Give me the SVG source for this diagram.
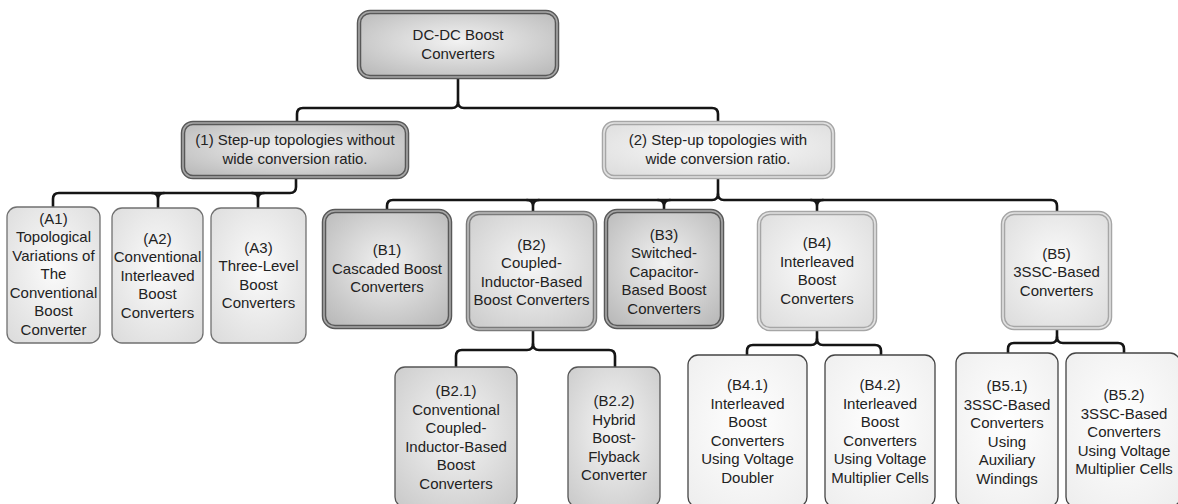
<svg xmlns="http://www.w3.org/2000/svg" width="1178" height="504" viewBox="0 0 1178 504">
<defs>
<radialGradient id="gDark" cx="50%" cy="45%" r="75%">
<stop offset="0" stop-color="#f2f2f2"/><stop offset="1" stop-color="#b4b4b4"/>
</radialGradient>
<radialGradient id="gMid" cx="50%" cy="45%" r="75%">
<stop offset="0" stop-color="#f6f6f6"/><stop offset="1" stop-color="#c8c8c8"/>
</radialGradient>
<radialGradient id="gLight" cx="50%" cy="45%" r="75%">
<stop offset="0" stop-color="#fbfbfb"/><stop offset="1" stop-color="#dadada"/>
</radialGradient>
<radialGradient id="gPale" cx="50%" cy="45%" r="80%">
<stop offset="0" stop-color="#ffffff"/><stop offset="1" stop-color="#ececec"/>
</radialGradient>
<style>
text{font-family:"Liberation Sans",Arial,sans-serif;font-size:15px;fill:#222;text-anchor:middle}
.dk{fill:url(#gDark);stroke:#585858;stroke-width:4.5}
.dk2{fill:none;stroke:#a8a8a8;stroke-width:1.6}
.md{fill:url(#gMid);stroke:#7a7a7a;stroke-width:4.5}
.md2{fill:none;stroke:#bcbcbc;stroke-width:1.6}
.lt{fill:url(#gLight);stroke:#a6a6a6;stroke-width:4.5}
.lt2{fill:none;stroke:#e2e2e2;stroke-width:1.6}
.sa{fill:url(#gLight);stroke:#707070;stroke-width:1.3}
.sb{fill:url(#gMid);stroke:#555;stroke-width:1.3}
.sc{fill:url(#gPale);stroke:#444;stroke-width:1.3}
.conn path{fill:none;stroke:#151515;stroke-width:2.6;stroke-linecap:round;stroke-linejoin:round}
</style>
</defs>

<g class="conn" id="connectors">
<path d="M458,77 V102 Q458,108 452,108 H303 Q297,108 297,114 V123"/>
<path d="M458,102 Q458,108 464,108 H712 Q718,108 718,114 V123"/>
<path d="M296,177 V187 Q296,193 290,193 H59 Q53,193 53,199 V207"/>
<path d="M152,193 Q158,193 158,199 V208 M164,193 Q158,193 158,199"/>
<path d="M252,193 Q258,193 258,199 V208 M264,193 Q258,193 258,199"/>
<path d="M718,177 V194 Q718,200 712,200 H393 Q387,200 387,206 V211"/>
<path d="M718,194 Q718,200 724,200 H1051 Q1057,200 1057,206 V213"/>
<path d="M527,200 Q533,200 533,206 V213 M539,200 Q533,200 533,206"/>
<path d="M658,200 Q664,200 664,206 V211 M670,200 Q664,200 664,206"/>
<path d="M811,200 Q817,200 817,206 V213 M823,200 Q817,200 817,206"/>
<path d="M533,329 V344 Q533,350 527,350 H462 Q456,350 456,356 V367"/>
<path d="M533,344 Q533,350 539,350 H609 Q615,350 615,356 V367"/>
<path d="M817,329 V339 Q817,345 811,345 H753 Q747,345 747,351 V355"/>
<path d="M817,339 Q817,345 823,345 H875 Q881,345 881,351 V355"/>
<path d="M1057,328 V337 Q1057,343 1051,343 H1014 Q1008,343 1008,349 V353"/>
<path d="M1057,337 Q1057,343 1063,343 H1118 Q1124,343 1124,349 V353"/>
</g>

<g id="root">
<rect class="dk" x="359" y="12" width="198" height="65" rx="11"/>
<rect class="dk2" x="359" y="12" width="198" height="65" rx="11"/>
<text x="458" y="40.3">DC-DC Boost</text>
<text x="458" y="58.8">Converters</text>
</g>

<g id="n1">
<rect class="dk" x="183" y="123" width="224" height="54" rx="10"/>
<rect class="dk2" x="183" y="123" width="224" height="54" rx="10"/>
<text x="295" y="145.3">(1) Step-up topologies without</text>
<text x="295" y="163.8">wide conversion ratio.</text>
</g>

<g id="n2">
<rect class="lt" x="604" y="123" width="229" height="54" rx="10"/>
<rect class="lt2" x="604" y="123" width="229" height="54" rx="10"/>
<text x="718" y="145.3">(2) Step-up topologies with</text>
<text x="718" y="163.8">wide conversion ratio.</text>
</g>

<g id="A1">
<rect class="sa" x="7" y="207" width="93" height="136" rx="10"/>
<text x="53.5" y="223.5">(A1)</text>
<text x="53.5" y="242">Topological</text>
<text x="53.5" y="260.5">Variations of</text>
<text x="53.5" y="279">The</text>
<text x="53.5" y="297.5">Conventional</text>
<text x="53.5" y="316">Boost</text>
<text x="53.5" y="334.5">Converter</text>
</g>

<g id="A2">
<rect class="sa" x="112" y="208" width="91" height="135" rx="10"/>
<text x="157.5" y="243.5">(A2)</text>
<text x="157.5" y="262">Conventional</text>
<text x="157.5" y="280.5">Interleaved</text>
<text x="157.5" y="299">Boost</text>
<text x="157.5" y="317.5">Converters</text>
</g>

<g id="A3">
<rect class="sa" x="211" y="208" width="95" height="135" rx="10"/>
<text x="258.5" y="252.75">(A3)</text>
<text x="258.5" y="271.25">Three-Level</text>
<text x="258.5" y="289.75">Boost</text>
<text x="258.5" y="308.25">Converters</text>
</g>

<g id="B1">
<rect class="dk" x="324" y="211" width="126" height="116" rx="11"/>
<rect class="dk2" x="324" y="211" width="126" height="116" rx="11"/>
<text x="387" y="255">(B1)</text>
<text x="387" y="273.5">Cascaded Boost</text>
<text x="387" y="292">Converters</text>
</g>

<g id="B2">
<rect class="md" x="468" y="213" width="127" height="116" rx="11"/>
<rect class="md2" x="468" y="213" width="127" height="116" rx="11"/>
<text x="531.5" y="249.75">(B2)</text>
<text x="531.5" y="268.25">Coupled-</text>
<text x="531.5" y="286.75">Inductor-Based</text>
<text x="531.5" y="305.25">Boost Converters</text>
</g>

<g id="B3">
<rect class="dk" x="606" y="211" width="116" height="116" rx="11"/>
<rect class="dk2" x="606" y="211" width="116" height="116" rx="11"/>
<text x="664" y="239.5">(B3)</text>
<text x="664" y="258">Switched-</text>
<text x="664" y="276.5">Capacitor-</text>
<text x="664" y="295">Based Boost</text>
<text x="664" y="313.5">Converters</text>
</g>

<g id="B4">
<rect class="lt" x="759" y="213" width="116" height="116" rx="11"/>
<rect class="lt2" x="759" y="213" width="116" height="116" rx="11"/>
<text x="817" y="248.25">(B4)</text>
<text x="817" y="266.75">Interleaved</text>
<text x="817" y="285.25">Boost</text>
<text x="817" y="303.75">Converters</text>
</g>

<g id="B5">
<rect class="lt" x="1003" y="213" width="107" height="115" rx="11"/>
<rect class="lt2" x="1003" y="213" width="107" height="115" rx="11"/>
<text x="1056.5" y="258.5">(B5)</text>
<text x="1056.5" y="277">3SSC-Based</text>
<text x="1056.5" y="295.5">Converters</text>
</g>

<g id="B2_1">
<rect class="sb" x="395" y="367" width="122" height="140" rx="10"/>
<text x="456" y="396.25">(B2.1)</text>
<text x="456" y="414.75">Conventional</text>
<text x="456" y="433.25">Coupled-</text>
<text x="456" y="451.75">Inductor-Based</text>
<text x="456" y="470.25">Boost</text>
<text x="456" y="488.75">Converters</text>
</g>

<g id="B2_2">
<rect class="sb" x="568" y="367" width="92" height="140" rx="10"/>
<text x="614" y="406">(B2.2)</text>
<text x="614" y="424.5">Hybrid</text>
<text x="614" y="443">Boost-</text>
<text x="614" y="461.5">Flyback</text>
<text x="614" y="480">Converter</text>
</g>

<g id="B4_1">
<rect class="sc" x="688" y="355" width="119" height="152" rx="10"/>
<text x="747.5" y="390.25">(B4.1)</text>
<text x="747.5" y="408.75">Interleaved</text>
<text x="747.5" y="427.25">Boost</text>
<text x="747.5" y="445.75">Converters</text>
<text x="747.5" y="464.25">Using Voltage</text>
<text x="747.5" y="482.75">Doubler</text>
</g>

<g id="B4_2">
<rect class="sc" x="825" y="355" width="110" height="152" rx="10"/>
<text x="880" y="390.25">(B4.2)</text>
<text x="880" y="408.75">Interleaved</text>
<text x="880" y="427.25">Boost</text>
<text x="880" y="445.75">Converters</text>
<text x="880" y="464.25">Using Voltage</text>
<text x="880" y="482.75">Multiplier Cells</text>
</g>

<g id="B5_1">
<rect class="sc" x="956" y="353" width="102" height="154" rx="10"/>
<text x="1007" y="391.25">(B5.1)</text>
<text x="1007" y="409.75">3SSC-Based</text>
<text x="1007" y="428.25">Converters</text>
<text x="1007" y="446.75">Using</text>
<text x="1007" y="465.25">Auxiliary</text>
<text x="1007" y="483.75">Windings</text>
</g>

<g id="B5_2">
<rect class="sc" x="1066" y="353" width="114" height="154" rx="10"/>
<text x="1124" y="400">(B5.2)</text>
<text x="1124" y="418.5">3SSC-Based</text>
<text x="1124" y="437">Converters</text>
<text x="1124" y="455.5">Using Voltage</text>
<text x="1124" y="474">Multiplier Cells</text>
</g>
</svg>
